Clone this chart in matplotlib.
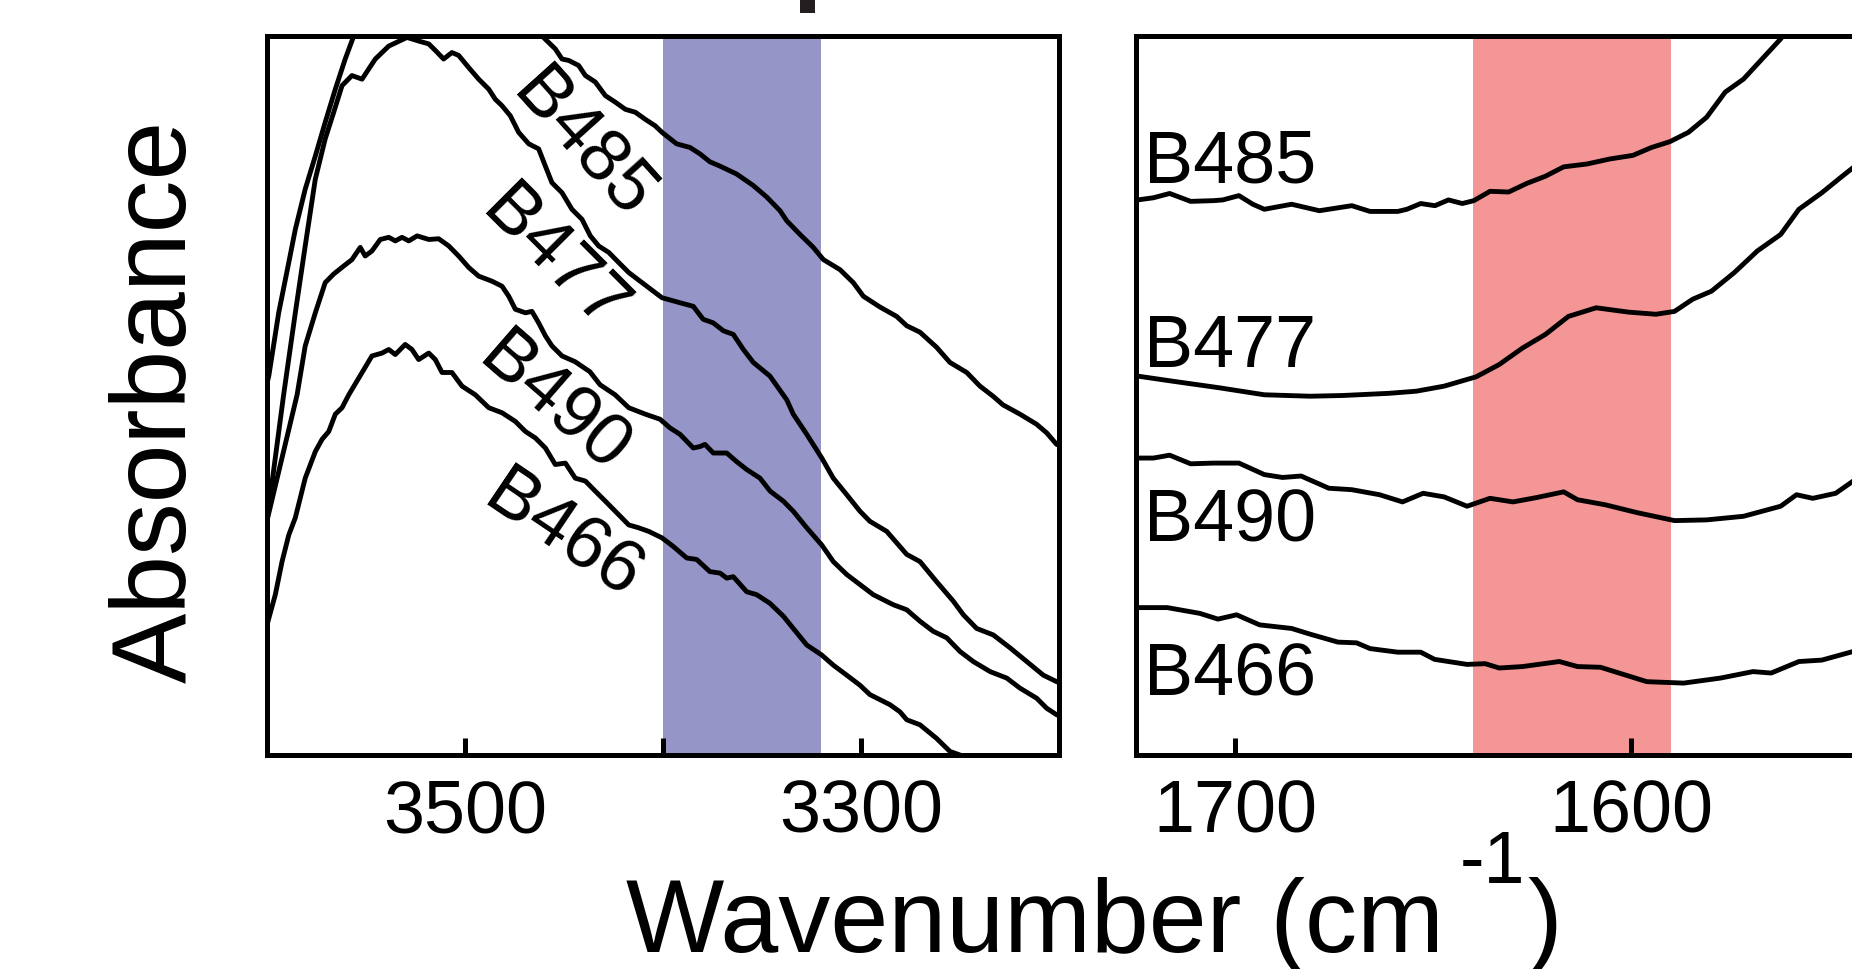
import matplotlib
matplotlib.use('Agg')
import matplotlib.pyplot as plt
from matplotlib.patches import Rectangle

plt.rcParams['font.family'] = ['Liberation Sans', 'DejaVu Sans']

# ---- O-H stretching region (left panel) ----
samples = ['B485', 'B477', 'B490', 'B466']

oh_wn_b485 = [3600, 3599.1, 3594.1, 3589.0, 3585.7, 3580.7, 3575.6, 3570.6, 3565.5, 3560.5,
              3556.2, 3545, 3530, 3510, 3490, 3470, 3461.1, 3454.4, 3451.0, 3447.6,
              3442.6, 3439.2, 3434.2, 3429.1, 3424.1, 3419.0, 3414.0, 3408.9, 3403.9, 3400.5,
              3393.1, 3386.4, 3381.3, 3376.3, 3371.2, 3362.8, 3354.4, 3347.6, 3340.9, 3337.5,
              3330.8, 3324.1, 3319.0, 3310.6, 3303.9, 3298.8, 3290.4, 3282.0, 3276.9, 3270.2,
              3261.8, 3255.1, 3246.6, 3239.9, 3233.3, 3228.3, 3219.7, 3211.3, 3206.2, 3201.2, 3199]
oh_ab_b485 = [0.517, 0.527, 0.615, 0.685, 0.731, 0.787, 0.833, 0.880, 0.926, 0.968,
              1.000, 1.05, 1.08, 1.08, 1.06, 1.02, 1.000, 0.982, 0.968, 0.966,
              0.959, 0.945, 0.936, 0.917, 0.908, 0.898, 0.894, 0.884, 0.875, 0.866,
              0.850, 0.845, 0.836, 0.825, 0.819, 0.808, 0.792, 0.776, 0.757, 0.743,
              0.724, 0.706, 0.689, 0.675, 0.657, 0.638, 0.623, 0.610, 0.597, 0.588,
              0.567, 0.546, 0.532, 0.513, 0.499, 0.487, 0.474, 0.460, 0.448, 0.432, 0.430]

oh_wn_b477 = [3600, 3591.6, 3585.7, 3580.7, 3575.6, 3570.6, 3566.3, 3562.1, 3557.1, 3552.0,
              3545.3, 3538.5, 3529.3, 3523.4, 3518.3, 3515.0, 3510.8, 3506.6, 3503.2, 3498.1,
              3493.1, 3488.0, 3484.7, 3481.3, 3477.1, 3472.9, 3467.8, 3462.8, 3459.4, 3456.1,
              3451.0, 3446.0, 3440.9, 3436.7, 3432.5, 3427.4, 3422.4, 3417.3, 3410.6, 3403.9,
              3400.5, 3391.4, 3384.7, 3379.7, 3374.6, 3369.5, 3364.5, 3359.4, 3354.4, 3346.0,
              3337.5, 3334.2, 3327.4, 3319.8, 3314.0, 3307.2, 3300.5, 3295.5, 3287.0, 3276.9,
              3270.2, 3261.8, 3253.4, 3248.3, 3241.6, 3233.2, 3224.7, 3216.3, 3207.9, 3201.2, 3199]
oh_ab_b477 = [0.326, 0.501, 0.615, 0.708, 0.801, 0.857, 0.894, 0.931, 0.945, 0.940,
              0.968, 0.986, 0.998, 0.993, 0.989, 0.980, 0.968, 0.977, 0.973, 0.956,
              0.940, 0.926, 0.912, 0.903, 0.889, 0.866, 0.850, 0.843, 0.819, 0.796,
              0.782, 0.759, 0.745, 0.722, 0.708, 0.699, 0.685, 0.671, 0.657, 0.643,
              0.636, 0.629, 0.624, 0.606, 0.601, 0.590, 0.585, 0.564, 0.546, 0.527,
              0.494, 0.474, 0.446, 0.413, 0.385, 0.362, 0.339, 0.325, 0.311, 0.279,
              0.269, 0.241, 0.214, 0.195, 0.176, 0.167, 0.149, 0.130, 0.111, 0.102, 0.100]

oh_wn_b490 = [3600, 3584.8, 3580.7, 3575.6, 3570.6, 3566.3, 3561.3, 3557.1, 3552.9, 3550.4,
              3547.0, 3542.8, 3538.5, 3535.2, 3531.8, 3528.4, 3524.2, 3518.3, 3513.3, 3508.2,
              3503.2, 3498.1, 3493.1, 3486.4, 3481.3, 3477.9, 3474.6, 3469.5, 3466.2, 3462.8,
              3459.4, 3456.1, 3451.0, 3444.4, 3436.9, 3431.8, 3424.2, 3417.3, 3408.9, 3401.5,
              3396.5, 3391.4, 3384.7, 3381.3, 3378.8, 3374.6, 3367.8, 3362.8, 3357.7, 3351.0,
              3345.9, 3339.2, 3334.2, 3327.4, 3319.8, 3314.0, 3307.2, 3300.5, 3293.8, 3283.7,
              3276.9, 3270.2, 3263.5, 3256.7, 3250.0, 3243.3, 3234.8, 3226.4, 3219.7, 3211.3,
              3206.2, 3201.2, 3199]
oh_ab_b490 = [0.326, 0.501, 0.569, 0.615, 0.657, 0.669, 0.680, 0.689, 0.706, 0.694,
              0.701, 0.717, 0.720, 0.715, 0.720, 0.715, 0.722, 0.717, 0.718, 0.708,
              0.694, 0.678, 0.666, 0.659, 0.652, 0.638, 0.620, 0.615, 0.617, 0.601,
              0.583, 0.569, 0.555, 0.547, 0.533, 0.515, 0.501, 0.483, 0.474, 0.467,
              0.455, 0.446, 0.427, 0.429, 0.432, 0.420, 0.420, 0.408, 0.397, 0.385,
              0.367, 0.353, 0.339, 0.316, 0.292, 0.269, 0.251, 0.237, 0.223, 0.209,
              0.202, 0.186, 0.172, 0.163, 0.144, 0.130, 0.116, 0.107, 0.093, 0.079,
              0.065, 0.056, 0.054]

oh_wn_b466 = [3600, 3595.8, 3592.4, 3589.0, 3585.7, 3580.7, 3575.6, 3572.2, 3568.8, 3565.5,
              3562.1, 3558.7, 3547.0, 3541.9, 3538.5, 3535.2, 3530.2, 3526.8, 3523.4, 3518.3,
              3515.0, 3511.6, 3506.6, 3501.5, 3494.8, 3488.0, 3481.3, 3474.6, 3469.5, 3464.5,
              3459.4, 3454.4, 3449.3, 3444.3, 3439.2, 3434.2, 3429.1, 3424.1, 3417.3, 3412.3,
              3407.2, 3400.5, 3394.8, 3388.0, 3383.0, 3376.3, 3371.2, 3367.8, 3364.5, 3357.7,
              3352.7, 3346.0, 3339.2, 3334.2, 3327.4, 3319.8, 3314.0, 3307.2, 3300.5, 3295.5,
              3285.4, 3280.3, 3276.9, 3270.2, 3261.8, 3255.1, 3250.0, 3244]
oh_ab_b466 = [0.181, 0.223, 0.269, 0.306, 0.330, 0.385, 0.422, 0.439, 0.450, 0.474,
              0.483, 0.501, 0.555, 0.559, 0.564, 0.557, 0.571, 0.564, 0.550, 0.559,
              0.550, 0.532, 0.532, 0.513, 0.501, 0.483, 0.476, 0.464, 0.450, 0.441,
              0.427, 0.404, 0.406, 0.385, 0.381, 0.367, 0.353, 0.339, 0.320, 0.316,
              0.311, 0.302, 0.290, 0.274, 0.272, 0.255, 0.253, 0.246, 0.248, 0.227,
              0.223, 0.211, 0.193, 0.176, 0.153, 0.139, 0.125, 0.111, 0.097, 0.084,
              0.070, 0.060, 0.049, 0.042, 0.023, 0.005, 0.000, -0.010]

# ---- H-O-H bending region (right panel) ----
bend_wn_b485 = [1725, 1724.6, 1720.6, 1716.5, 1711.2, 1705.4, 1703.1, 1699.0, 1695.5, 1692.6,
                1685.7, 1678.7, 1670.5, 1665.9, 1658.9, 1656.6, 1653.1, 1649.5, 1646.1, 1642.6,
                1639.7, 1635.6, 1630.9, 1626.3, 1621.6, 1617.0, 1611.1, 1605.3, 1599.5, 1594.8,
                1590.2, 1585.5, 1580.9, 1576.2, 1571.6, 1566.9, 1562.2, 1555]
bend_ab_b485 = [0.772, 0.772, 0.775, 0.781, 0.770, 0.771, 0.772, 0.778, 0.766, 0.759,
                0.766, 0.757, 0.764, 0.756, 0.756, 0.759, 0.767, 0.764, 0.772, 0.767,
                0.771, 0.784, 0.783, 0.795, 0.805, 0.818, 0.822, 0.829, 0.834, 0.845,
                0.853, 0.866, 0.887, 0.922, 0.940, 0.968, 0.996, 1.05]

bend_wn_b477 = [1725, 1724.6, 1715.9, 1704.3, 1692.6, 1681.0, 1672.8, 1661.2, 1654.2, 1647.2,
                1639.1, 1633.3, 1627.4, 1621.6, 1615.8, 1608.8, 1600.7, 1593.7, 1589.0, 1584.4,
                1579.7, 1573.9, 1568.1, 1562.2, 1557.6, 1551.8, 1547.1, 1543.9, 1540]
bend_ab_b477 = [0.528, 0.527, 0.520, 0.511, 0.501, 0.499, 0.500, 0.503, 0.506, 0.513,
                0.526, 0.543, 0.566, 0.585, 0.610, 0.622, 0.616, 0.613, 0.617, 0.634,
                0.645, 0.671, 0.701, 0.724, 0.759, 0.782, 0.803, 0.817, 0.835]

bend_wn_b490 = [1725, 1724.6, 1720.6, 1716.5, 1711.2, 1705.4, 1699.0, 1692.6, 1688.0, 1683.3,
                1676.3, 1670.5, 1663.5, 1657.7, 1652.5, 1647.2, 1641.4, 1635.6, 1629.8, 1623.9,
                1617.0, 1613.5, 1606.5, 1598.4, 1589.0, 1580.9, 1571.6, 1562.2, 1558.2, 1554.1,
                1548.3, 1543.9, 1540]
bend_ab_b490 = [0.413, 0.413, 0.413, 0.417, 0.405, 0.406, 0.406, 0.390, 0.386, 0.388,
                0.371, 0.369, 0.362, 0.352, 0.364, 0.359, 0.346, 0.357, 0.352, 0.358,
                0.366, 0.355, 0.348, 0.337, 0.326, 0.327, 0.332, 0.346, 0.362, 0.357,
                0.364, 0.381, 0.395]

bend_wn_b466 = [1725, 1724.6, 1717.1, 1708.9, 1704.3, 1699.6, 1693.8, 1685.7, 1681.0, 1674.0,
                1669.3, 1665.9, 1658.9, 1653.1, 1649.6, 1641.4, 1636.8, 1633.3, 1627.4, 1618.1,
                1613.5, 1607.7, 1596.0, 1586.7, 1577.4, 1569.2, 1564.6, 1557.6, 1551.8, 1543.9, 1540]
bend_ab_b466 = [0.205, 0.205, 0.205, 0.197, 0.189, 0.195, 0.181, 0.176, 0.168, 0.157,
                0.156, 0.148, 0.143, 0.143, 0.133, 0.126, 0.127, 0.121, 0.123, 0.130,
                0.123, 0.122, 0.102, 0.100, 0.107, 0.116, 0.114, 0.130, 0.132, 0.144, 0.152]

oh_curves = [(oh_wn_b485, oh_ab_b485), (oh_wn_b477, oh_ab_b477),
             (oh_wn_b490, oh_ab_b490), (oh_wn_b466, oh_ab_b466)]
bend_curves = [(bend_wn_b485, bend_ab_b485), (bend_wn_b477, bend_ab_b477),
               (bend_wn_b490, bend_ab_b490), (bend_wn_b466, bend_ab_b466)]

# label anchors (wavenumber, absorbance) and rotation for the left panel
oh_label_wn = [3440.5, 3455.2, 3455.5, 3450.5]
oh_label_ab = [0.850, 0.690, 0.489, 0.305]
oh_label_rot = [-48, -45, -41, -34]
bend_label_ab = [0.797, 0.541, 0.298, 0.084]

oh_band = (3400, 3320)
bend_band = (1640, 1590)

W, H = 1852, 970
fig = plt.figure(figsize=(W / 100, H / 100), dpi=100)
ax1 = fig.add_axes([267 / W, 1 - 756 / H, 792 / W, 719 / H])
ax2 = fig.add_axes([1136 / W, 1 - 756 / H, 792 / W, 719 / H])

for ax in (ax1, ax2):
    for sp in ax.spines.values():
        sp.set_linewidth(3.6)
    ax.tick_params(axis='x', direction='in', length=12, width=3.6,
                   labelsize=53, pad=16.5)

# left panel
ax1.axvspan(*oh_band, color='#9595C8', lw=0, zorder=0)
for wn, ab in oh_curves:
    ax1.plot(wn, ab, color='black', lw=3.5, solid_joinstyle='round')
for name, x, y, r in zip(samples, oh_label_wn, oh_label_ab, oh_label_rot):
    ax1.text(x, y, name, fontsize=53, rotation=r, rotation_mode='anchor',
             ha='center', va='center')
ax1.set_xticks([3500, 3400, 3300])
ax1.set_xticklabels(['3500', '', '3300'])
ax1.set_yticks([])
ax1.set_xlim(3600, 3200)
ax1.set_ylim(0, 1)

# right panel
ax2.axvspan(*bend_band, color='#F49696', lw=0, zorder=0)
for wn, ab in bend_curves:
    ax2.plot(wn, ab, color='black', lw=3.5, solid_joinstyle='round')
for name, y in zip(samples, bend_label_ab):
    ax2.text(1723.1, y, name, fontsize=53, ha='left', va='baseline')
ax2.set_xticks([1700, 1600])
ax2.set_yticks([])
ax2.set_xlim(1725, 1525)
ax2.set_ylim(0, 1)

# axis titles
fig.text(186 / W, 1 - 401 / H, 'Absorbance', fontsize=76, rotation=90,
         rotation_mode='anchor', ha='center', va='baseline')
fig.text(626 / W, 1 - 952 / H, 'Wavenumber (cm', fontsize=75, ha='left', va='baseline')
fig.text(1460 / W, 1 - 883 / H, '-1', fontsize=53, ha='left', va='baseline')
fig.text(1527 / W, 1 - 952 / H, ')', fontsize=75, ha='left', va='baseline')

# cropped stroke from the panel above
fig.add_artist(Rectangle((800 / W, 1 - 14 / H), 15 / W, 14 / H,
                         transform=fig.transFigure, color='#231F20', lw=0))

fig.savefig('out.png', dpi=100)
